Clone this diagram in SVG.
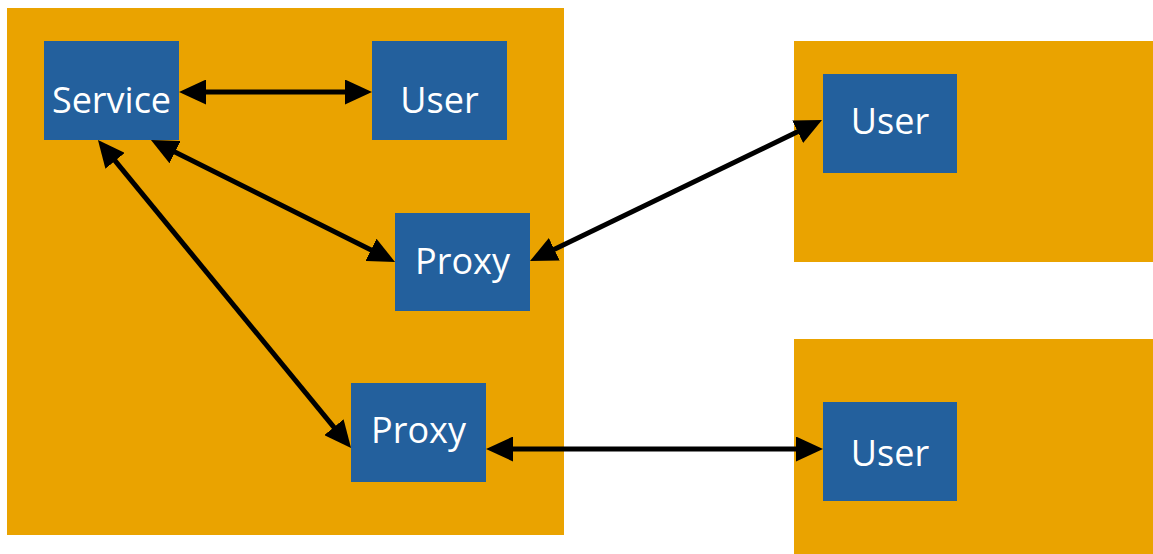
<svg xmlns="http://www.w3.org/2000/svg" width="1153" height="554" viewBox="0 0 1153 554">
<style>
.container{fill:#EAA300}
.box{fill:#23609D}
.lbl{fill:#FFFFFF;font-family:"Open Sans","DejaVu Sans",sans-serif;font-size:36px;text-anchor:middle}
.conn{stroke:#000000;stroke-width:5;fill:none;marker-start:url(#ah);marker-end:url(#ah)}
</style>
<defs>
<marker id="ah" markerUnits="userSpaceOnUse" markerWidth="27" markerHeight="25" refX="17" refY="12.5" orient="auto-start-reverse" viewBox="0 0 27 25">
<path d="M0,0 L27,12.5 L0,25 z" fill="#000000"/>
</marker>
</defs>
<g id="containers">
<rect class="container" x="7" y="8" width="557" height="527"/>
<rect class="container" x="794" y="41" width="359" height="221"/>
<rect class="container" x="794" y="339" width="359" height="215"/>
</g>
<g id="service"><rect class="box" x="44" y="41" width="135" height="99"/><text class="lbl" x="111.5" y="113">Service</text></g>
<g id="user-local"><rect class="box" x="372" y="41" width="135" height="99"/><text class="lbl" x="439.5" y="113">User</text></g>
<g id="proxy1"><rect class="box" x="395" y="213" width="135" height="98"/><text class="lbl" x="462.5" y="274">Proxy</text></g>
<g id="proxy2"><rect class="box" x="351" y="383" width="135" height="99"/><text class="lbl" x="418.5" y="443">Proxy</text></g>
<g id="user-remote1"><rect class="box" x="823" y="74" width="134" height="99"/><text class="lbl" x="890" y="134">User</text></g>
<g id="user-remote2"><rect class="box" x="823" y="402" width="134" height="99"/><text class="lbl" x="890" y="466">User</text></g>
<g id="connectors">
<line class="conn" x1="189" y1="92" x2="362" y2="92"/>
<line class="conn" x1="159.9" y1="144.5" x2="386.1" y2="257.5"/>
<line class="conn" x1="104.3" y1="147.7" x2="344.7" y2="440.3"/>
<line class="conn" x1="539" y1="256.7" x2="813" y2="124.3"/>
<line class="conn" x1="496" y1="449" x2="813" y2="449"/>
</g>
</svg>
